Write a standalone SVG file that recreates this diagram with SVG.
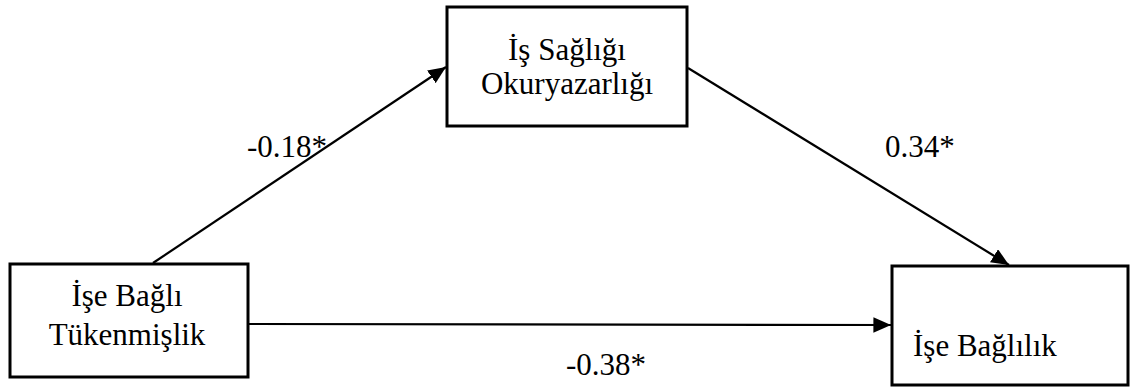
<svg xmlns="http://www.w3.org/2000/svg" width="1131" height="388" viewBox="0 0 1131 388">
  <style>
    .box { fill: #ffffff; stroke: #000000; stroke-width: 3; }
    .lbl { font-family: "Liberation Serif", "Times New Roman", serif; font-size: 31px; fill: #000000; }
    .mid { text-anchor: middle; }
    .edge { stroke: #000000; stroke-width: 2.2; fill: none; marker-end: url(#arrow); }
  </style>
  <defs>
    <marker id="arrow" markerWidth="8" markerHeight="7" refX="8" refY="3.5" orient="auto" markerUnits="strokeWidth">
      <path d="M0,0 L8,3.5 L0,7 Z" fill="#000000"/>
    </marker>
  </defs>
  <rect width="1131" height="388" fill="#ffffff"/>
  <g id="node-saglik">
    <rect class="box" x="447" y="7" width="240" height="119"/>
    <text class="lbl mid" x="567" y="60">İş Sağlığı</text>
    <text class="lbl mid" x="567" y="94">Okuryazarlığı</text>
  </g>
  <g id="node-tukenmislik">
    <rect class="box" x="10" y="264" width="238" height="113"/>
    <text class="lbl mid" x="127" y="306">İşe Bağlı</text>
    <text class="lbl mid" x="127" y="345">Tükenmişlik</text>
  </g>
  <g id="node-baglilik">
    <rect class="box" x="892" y="266" width="236" height="119"/>
    <text class="lbl" x="913" y="356">İşe Bağlılık</text>
  </g>
  <g id="connectors">
    <line class="edge" x1="153" y1="263" x2="446" y2="67"/>
    <line class="edge" x1="688" y1="68" x2="1009" y2="265"/>
    <line class="edge" x1="249" y1="324" x2="891" y2="325"/>
  </g>
  <g id="edge-labels">
    <text class="lbl" x="247" y="157">-0.18*</text>
    <text class="lbl" x="885" y="157">0.34*</text>
    <text class="lbl" x="566" y="375">-0.38*</text>
  </g>
</svg>
